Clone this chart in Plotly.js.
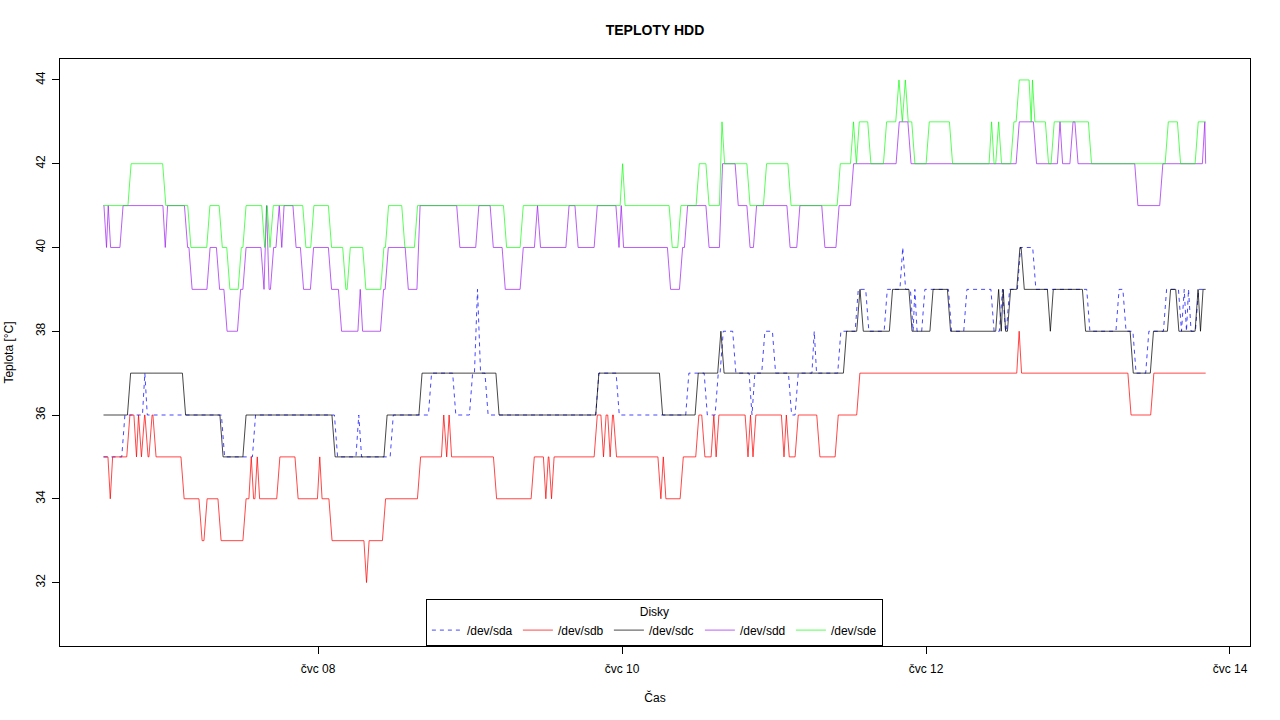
<!DOCTYPE html>
<html>
<head>
<meta charset="utf-8">
<script src="https://cdn.plot.ly/plotly-3.0.1.min.js"></script>
<style>html,body{margin:0;padding:0;background:#fff;}#chart{width:1280px;height:720px;}</style>
</head>
<body>
<div id="chart"></div>
<script>
// Time values are hours since 2015-07-06 00:00; each value holds from its time until the next change.
const BASE_DATE = Date.UTC(2015, 6, 6, 0, 0, 0);
const START_H = 14.13;
const END_H = 188.16;

const seriesNames = ['/dev/sda', '/dev/sdb', '/dev/sdc', '/dev/sdd', '/dev/sde'];

const sdaT = [14.13, 17.26, 20.53, 20.79, 33.00, 37.89, 50.84, 54.24, 54.63, 59.64, 65.68, 69.51, 72.16, 72.95, 73.42, 74.61,
  92.10, 95.32, 106.31, 109.22, 110.95, 111.74, 113.73, 116.32, 116.73, 118.31, 120.00, 122.53, 123.58, 126.24, 126.47,
  130.31, 133.06, 134.73, 137.64, 140.13, 140.53, 141.79, 142.15, 142.34, 143.57, 147.79, 150.21, 154.50, 155.84, 156.32,
  156.95, 158.68, 161.10, 169.63, 174.24, 175.34, 176.92, 178.94, 181.74, 184.11, 184.58, 184.97, 185.29, 185.61, 186.79];
const sdaV = [35, 36, 37, 36, 35, 36, 35, 36, 35, 36, 37, 36, 37, 39, 37, 36,
  37, 36, 37, 36, 37, 38, 37, 36, 37, 38, 37, 36, 37, 38, 37,
  38, 39, 38, 39, 40, 39, 38, 39, 38, 39, 38, 39, 38, 39, 38,
  39, 40, 39, 38, 39, 38, 37, 38, 39, 38, 39, 38, 39, 38, 39];

const sdbT = [14.13, 15.08, 15.32, 18.05, 19.18, 19.50, 19.82, 20.37, 20.92, 21.55, 22.18, 26.61, 29.45, 30.24, 32.45, 36.39,
  37.34, 37.58, 38.29, 38.53, 41.73, 44.61, 48.16, 48.39, 49.97, 55.50, 55.82, 58.42, 63.95, 67.74, 67.97, 68.57, 68.84,
  75.95, 81.90, 83.84, 84.11, 84.71, 85.03, 91.85, 92.92, 93.24, 94.00, 94.26, 94.89, 101.92, 102.36, 102.68, 105.43,
  107.89, 108.84, 110.32, 110.68, 111.05, 115.69, 116.10, 116.48, 116.89, 121.42, 121.74, 122.16, 123.58, 127.00, 129.90,
  133.31, 158.58, 158.84, 176.13, 179.73];
const sdbV = [35, 34, 35, 36, 35, 36, 35, 36, 35, 36, 35, 34, 33, 34, 33, 34,
  35, 34, 35, 34, 35, 34, 35, 34, 33, 32, 33, 34, 35, 36, 35, 36, 35,
  34, 35, 34, 35, 34, 35, 36, 35, 36, 35, 36, 35, 34, 35, 34, 35,
  36, 35, 36, 35, 36, 35, 36, 35, 36, 35, 36, 35, 36, 35, 36,
  37, 38, 37, 36, 37];

const sdcT = [14.13, 18.16, 26.84, 32.76, 36.39, 50.45, 58.66, 64.18, 76.34, 92.10, 102.16, 107.79, 111.36, 111.87, 131.21,
  133.31, 133.85, 138.47, 141.55, 144.87, 147.63, 155.26, 155.68, 156.08, 156.32, 157.11, 158.58, 159.27, 163.42, 163.85,
  168.95, 176.48, 179.67, 182.37, 183.68, 186.74, 187.18, 187.50];
const sdcV = [36, 37, 36, 35, 36, 35, 36, 37, 36, 37, 36, 37, 38, 37, 38,
  39, 38, 39, 38, 39, 38, 39, 38, 39, 38, 39, 40, 39, 38, 39,
  38, 37, 38, 39, 38, 39, 38, 39];

const sddT = [14.13, 14.45, 14.76, 15.00, 16.97, 23.76, 24.00, 27.16, 27.87, 30.71, 32.21, 33.39, 35.53, 36.39, 39.24, 39.71,
  40.03, 40.74, 41.61, 42.16, 42.39, 44.29, 45.47, 47.05, 49.89, 51.47, 54.55, 54.79, 58.11, 58.85, 62.01, 63.87, 70.15,
  73.15, 75.43, 77.32, 80.16, 82.42, 82.89, 87.39, 88.82, 91.85, 95.29, 95.76, 96.00, 103.42, 105.32, 106.11, 109.50,
  111.63, 114.11, 115.97, 117.00, 122.29, 123.84, 127.79, 130.03, 132.32, 139.53, 141.39, 158.48, 161.21, 165.00, 165.32,
  166.97, 167.76, 177.21, 181.15, 187.89, 188.16];
const sddV = [41, 40, 41, 40, 41, 40, 41, 40, 39, 40, 39, 38, 39, 40, 39, 41,
  39, 40, 41, 40, 41, 40, 39, 40, 39, 38, 39, 38, 39, 40, 39, 41, 40,
  41, 40, 39, 40, 41, 40, 41, 40, 41, 40, 41, 40, 39, 40, 41, 40,
  42, 41, 40, 41, 40, 41, 40, 41, 42, 43, 42, 43, 42, 43, 42,
  43, 42, 41, 42, 43, 42];

const sdeT = [14.13, 18.24, 23.72, 27.68, 30.68, 32.64, 33.84, 35.64, 36.39, 39.36, 39.79, 40.15, 40.69, 45.84, 47.10, 49.89,
  52.15, 52.85, 55.31, 58.15, 58.89, 61.47, 63.47, 77.53, 80.16, 95.95, 96.24, 103.69, 105.05, 107.95, 109.50, 111.63,
  111.95, 115.97, 118.58, 122.45, 130.22, 132.32, 132.79, 133.22, 135.05, 137.53, 139.47, 140.00, 140.53, 140.95, 142.00,
  144.27, 147.95, 154.21, 154.50, 155.26, 155.68, 157.63, 158.48, 160.53, 160.69, 160.94, 163.10, 164.00, 169.89, 182.01,
  183.95, 186.74];
const sdeV = [41, 42, 41, 40, 41, 40, 39, 40, 41, 40, 41, 40, 41, 40, 41, 40,
  39, 40, 39, 40, 41, 40, 41, 40, 41, 42, 41, 40, 41, 42, 41, 43,
  42, 41, 42, 41, 42, 43, 42, 43, 42, 43, 44, 43, 44, 43, 42,
  43, 42, 43, 42, 43, 42, 43, 44, 43, 44, 43, 42, 43, 42, 43,
  42, 43];

const xTickHours = [48, 96, 144, 192];
const xTickLabels = ['čvc 08', 'čvc 10', 'čvc 12', 'čvc 14'];
const yTickValues = [32, 34, 36, 38, 40, 42, 44];

function toDate(h) {
  const d = new Date(BASE_DATE + h * 3600000);
  return d.toISOString().replace('T', ' ').replace('Z', '');
}

// Each sample-to-sample change takes a short ramp, like a line joining consecutive readings.
const RAMP = 0.25;
function build(t, v) {
  const xs = [], ys = [];
  for (let i = 0; i < t.length; i++) {
    const s = t[i];
    const e = i + 1 < t.length ? t[i + 1] : END_H;
    const a = i === 0 ? s : s + RAMP;
    const b = i === t.length - 1 ? e : e - RAMP;
    if (b - a > 0.05) { xs.push(a, b); ys.push(v[i], v[i]); }
    else { xs.push((s + e) / 2); ys.push(v[i]); }
  }
  return { x: xs.map(toDate), y: ys };
}

const series = [
  { t: sdaT, v: sdaV, color: 'rgba(0,0,255,0.72)', dash: '4px,4px' },
  { t: sdbT, v: sdbV, color: 'rgba(255,0,0,0.72)', dash: 'solid' },
  { t: sdcT, v: sdcV, color: 'rgba(0,0,0,0.72)', dash: 'solid' },
  { t: sddT, v: sddV, color: 'rgba(160,32,240,0.72)', dash: 'solid' },
  { t: sdeT, v: sdeV, color: 'rgba(0,255,0,0.66)', dash: 'solid' }
];

const traces = series.map((s, i) => {
  const d = build(s.t, s.v);
  return {
    type: 'scatter', mode: 'lines', name: seriesNames[i],
    x: d.x, y: d.y,
    line: { color: s.color, width: 1, dash: s.dash, shape: 'linear' },
    hoverinfo: 'skip'
  };
});

const FONT = 'Liberation Sans, Arial, Helvetica, sans-serif';

const layout = {
  width: 1280, height: 720,
  paper_bgcolor: '#ffffff', plot_bgcolor: '#ffffff',
  margin: { l: 60, r: 30, t: 59, b: 74, pad: 0 },
  font: { family: FONT, size: 12, color: '#000' },
  title: {
    text: '<b>TEPLOTY HDD</b>', font: { family: FONT, size: 14, color: '#000' },
    xref: 'paper', x: 0.5, xanchor: 'center', yref: 'container', y: 1 - 30 / 720, yanchor: 'middle'
  },
  showlegend: true,
  legend: {
    orientation: 'h', x: 0.4995, xanchor: 'center', y: 0, yanchor: 'bottom',
    bgcolor: '#ffffff', bordercolor: '#000', borderwidth: 1,
    font: { family: FONT, size: 12, color: '#000' },
    title: { text: 'Disky', side: 'top center', font: { family: FONT, size: 12, color: '#000' } },
    entrywidth: 46, entrywidthmode: 'pixels', itemwidth: 30, traceorder: 'normal'
  },
  xaxis: {
    type: 'date',
    range: [toDate(7.26), toDate(195.16)],
    tickmode: 'array', tickvals: xTickHours.map(toDate), ticktext: xTickLabels,
    ticks: 'outside', ticklen: 7, tickwidth: 1, tickcolor: '#000',
    ticklabelstandoff: 5,
    showline: true, mirror: true, linecolor: '#000', linewidth: 1,
    showgrid: false, zeroline: false,
    tickfont: { family: FONT, size: 12, color: '#000' },
    title: { text: 'Čas', font: { family: FONT, size: 12, color: '#000' }, standoff: 18 }
  },
  yaxis: {
    range: [30.485, 44.5],
    tickmode: 'array', tickvals: yTickValues, ticktext: yTickValues.map(String),
    tickangle: -90,
    ticks: 'outside', ticklen: 7, tickwidth: 1, tickcolor: '#000',
    ticklabelstandoff: 2,
    showline: true, mirror: true, linecolor: '#000', linewidth: 1,
    showgrid: false, zeroline: false,
    tickfont: { family: FONT, size: 12, color: '#000' },
    title: { text: 'Teplota [°C]', font: { family: FONT, size: 12, color: '#000' }, standoff: 18 }
  }
};

Plotly.newPlot('chart', traces, layout, { displayModeBar: false, staticPlot: true });
</script>
</body>
</html>
